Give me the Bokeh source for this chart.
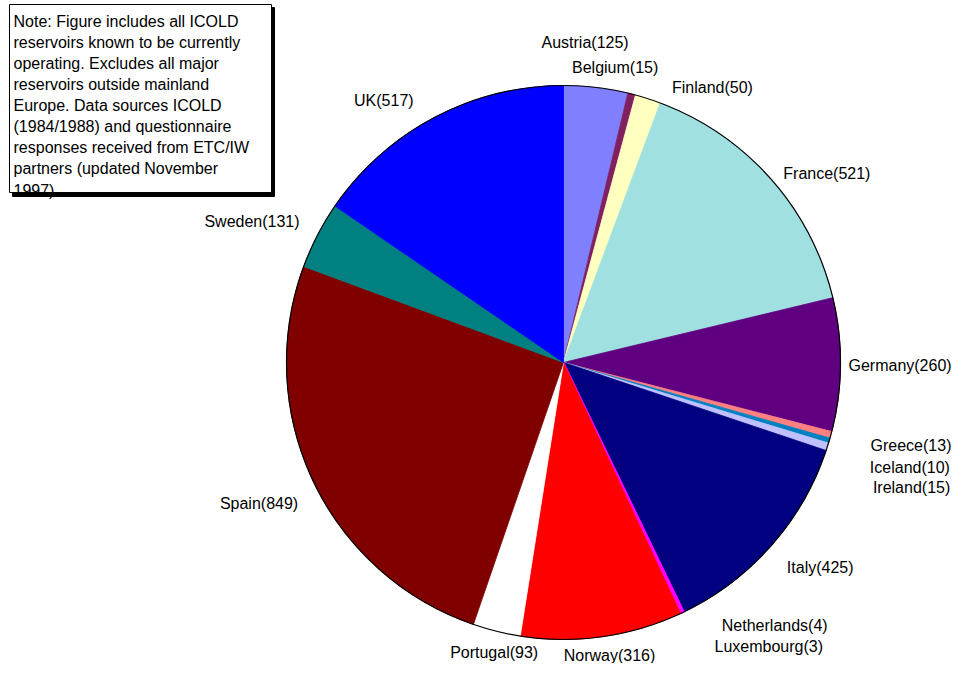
import math
from bokeh.plotting import figure
from bokeh.models import Range1d, ColumnDataSource
from bokeh.core.properties import value
from bokeh.embed import file_html
from bokeh.resources import INLINE

# ---------------- data ----------------
countries = ["Austria", "Belgium", "Finland", "France", "Germany", "Greece",
             "Iceland", "Ireland", "Italy", "Luxembourg", "Netherlands",
             "Norway", "Portugal", "Spain", "Sweden", "UK"]
reservoirs = [125, 15, 50, 521, 260, 13, 10, 15, 425, 3, 4, 316, 93, 849, 131, 517]
slice_colors = ["#8080FF", "#802060", "#FFFFC0", "#A0E0E0", "#600080", "#FF8080",
                "#0080C0", "#C0C0FF", "#000080", "#FF00FF", "#FF00FF", "#FF0000",
                "#FFFFFF", "#800000", "#008080", "#0000FF"]
note_lines = ["Note: Figure includes all ICOLD",
              "reservoirs known to be currently",
              "operating.  Excludes all major",
              "reservoirs outside mainland",
              "Europe.   Data sources  ICOLD",
              "(1984/1988) and questionnaire",
              "responses received from ETC/IW",
              "partners (updated  November",
              "1997)."]

# ---------------- layout (pixels from the picture's top-left) ----------------
W, H = 952, 663
CX, CY, R = 563, 362, 277
LABEL_GAP = 10
FONT = value("Liberation Sans")
# label nudges in pixels (x right, y down), Excel-style manual placement
label_nudge = {
    "Austria": (-12, -35), "Belgium": (-19, -17), "Finland": (21, -1.5),
    "France": (5, 1.5), "Germany": (-2, 1), "Greece": (30, 8),
    "Iceland": (31, 24), "Ireland": (36, 38), "Italy": (8, 15),
    "Luxembourg": (27, 25), "Netherlands": (36, 3), "Norway": (6, 9),
    "Portugal": (0, 12), "Spain": (-6, 18), "Sweden": (-9, -9), "UK": (-16, -8),
}


def dx(sx):
    return sx


def dy(sy):
    return H - sy


p = figure(width=W, height=H, output_backend="svg", toolbar_location=None,
           x_range=Range1d(0, W), y_range=Range1d(0, H),
           x_axis_type=None, y_axis_type=None, min_border=0)
p.outline_line_color = None
p.grid.visible = False
p.background_fill_color = "white"
p.border_fill_color = "white"

# ---------------- wedges ----------------
total = sum(reservoirs)
starts, ends, mids = [], [], []
cum = 0.0
for v in reservoirs:
    a0 = cum / total * 360.0
    cum += v
    a1 = cum / total * 360.0
    starts.append(math.radians(90.0 - a0))
    ends.append(math.radians(90.0 - a1))
    mids.append((a0 + a1) / 2.0)

# very thin slices get a slightly heavier outline so they stay visible
edge_widths = [1.6 if v / total < 0.002 else 0.8 for v in reservoirs]

src = ColumnDataSource(dict(x=[dx(CX)] * len(countries), y=[dy(CY)] * len(countries),
                            start=starts, end=ends, color=slice_colors,
                            lw=edge_widths))
p.wedge(x="x", y="y", radius=R, start_angle="start", end_angle="end",
        direction="clock", fill_color="color", line_color="color",
        line_width="lw", source=src)
p.circle(x=[dx(CX)], y=[dy(CY)], radius=R, fill_color=None,
         line_color="black", line_width=1.2)

# ---------------- labels ----------------
for name, v, phi in zip(countries, reservoirs, mids):
    s = math.sin(math.radians(phi))
    c = math.cos(math.radians(phi))
    sx = CX + (R + LABEL_GAP) * s
    sy = CY - (R + LABEL_GAP) * c
    if s > 0.3:
        align = "left"
    elif s < -0.3:
        align = "right"
    else:
        align = "center"
    nx, ny = label_nudge[name]
    p.text(x=[dx(sx + nx)], y=[dy(sy + ny)], text=[f"{name}({v})"],
           text_align=align, text_baseline="middle", text_font=FONT,
           text_font_size="16px", text_color="black")

# ---------------- note box ----------------
BOX_L, BOX_T, BOX_R, BOX_B = 9, 4, 271, 192
SH = 3
p.quad(left=[dx(BOX_L + SH)], right=[dx(BOX_R + SH)], top=[dy(BOX_T + SH)],
       bottom=[dy(BOX_B + SH + 1)], fill_color="black", line_color="black")
p.quad(left=[dx(BOX_L)], right=[dx(BOX_R)], top=[dy(BOX_T)], bottom=[dy(BOX_B)],
       fill_color="white", line_color="black", line_width=1)
for i, line in enumerate(note_lines):
    p.text(x=[dx(BOX_L + 4)], y=[dy(20.7 + 21.1 * i)], text=[line],
           text_align="left", text_baseline="middle", text_font=FONT,
           text_font_size="16px", text_color="black")

open("out.html", "w").write(file_html(p, INLINE))
